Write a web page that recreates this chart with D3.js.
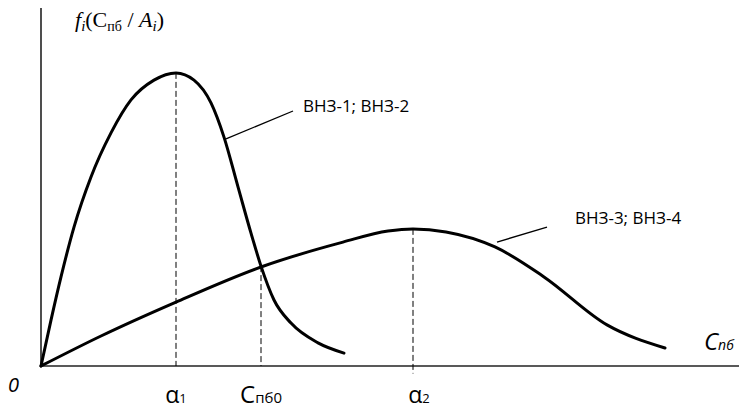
<!DOCTYPE html>
<html>
<head>
<meta charset="utf-8">
<script src="https://cdn.jsdelivr.net/npm/d3@7"></script>
<style>
  body { margin: 0; background: #fff; }
  svg { display: block; }
</style>
</head>
<body>
<svg id="chart"></svg>
<script>
// distribution curves f_i(C_пб / A_i) (x, y in chart units)
const curve12 = [
  [0, 0], [0.1, 0.153], [0.2, 0.297], [0.33, 0.463], [0.5, 0.63], [0.7, 0.777],
  [0.9, 0.887], [1.13, 0.953], [1.35, 0.977], [1.53, 0.953], [1.7, 0.877],
  [1.83, 0.763], [1.97, 0.597], [2.1, 0.443], [2.2, 0.333], [2.33, 0.22],
  [2.5, 0.143], [2.77, 0.077], [3.03, 0.043]
];
const curve34 = [
  [0, 0], [0.6, 0.1], [1.35, 0.213], [2.2, 0.33], [3.02, 0.413], [3.47, 0.45],
  [3.72, 0.457], [4.05, 0.447], [4.54, 0.397], [5.03, 0.297], [5.66, 0.137],
  [6.24, 0.06]
];

// dashed markers: x position, top of the dash, bottom of the dash
const markers = [
  { x: 1.35, top: 0.977, bottom: 0 },
  { x: 2.2, top: 0.333, bottom: 0 },
  { x: 3.72, top: 0.457, bottom: -0.025 }
];

// tick labels under the axis: main text, subscript, x position
const tickLabels = [
  { main: "α", sub: "1", x: 1.35 },
  { main: "С", sub: "пб0", x: 2.2 },
  { main: "α", sub: "2", x: 3.78 }
];

// curve names and their leader lines
const curveNames = ["ВНЗ-1; ВНЗ-2", "ВНЗ-3; ВНЗ-4"];
const leaders = [
  [[1.85, 0.757], [2.52, 0.85]],
  [[4.56, 0.413], [5.06, 0.463]]
];
const nameAnchors = [[2.62, 0.847], [5.34, 0.473]];

let width = 739;
let height = 411;

let svg = d3.select("#chart").attr("width", width).attr("height", height);

let x = d3.scaleLinear().domain([0, 7]).range([41, 741]);
let y = d3.scaleLinear().domain([0, 1]).range([366, 66]);

// axes
svg.append("line")
  .attr("x1", x(0)).attr("x2", x(0))
  .attr("y1", 8).attr("y2", y(0))
  .style("stroke", "#222").style("stroke-width", 1.6);
svg.append("line")
  .attr("x1", x(0)).attr("x2", width)
  .attr("y1", y(0)).attr("y2", y(0))
  .style("stroke", "#222").style("stroke-width", 1.6);

// dashed verticals
svg.append("g")
  .selectAll("line")
  .data(markers)
  .join("line")
  .attr("x1", (d) => x(d.x)).attr("x2", (d) => x(d.x))
  .attr("y1", (d) => y(d.top)).attr("y2", (d) => y(d.bottom))
  .style("stroke", "#000")
  .style("stroke-width", 1)
  .style("stroke-dasharray", "6,3");

let line = d3.line()
  .x((d) => x(d[0]))
  .y((d) => y(d[1]))
  .curve(d3.curveMonotoneX);

svg.append("g")
  .selectAll("path")
  .data([curve12, curve34])
  .join("path")
  .attr("d", line)
  .style("fill", "none")
  .style("stroke", "#000")
  .style("stroke-width", 3)
  .style("stroke-linecap", "round");

// leader lines + names
svg.append("g")
  .selectAll("line")
  .data(leaders)
  .join("line")
  .attr("x1", (d) => x(d[0][0])).attr("y1", (d) => y(d[0][1]))
  .attr("x2", (d) => x(d[1][0])).attr("y2", (d) => y(d[1][1]))
  .style("stroke", "#000")
  .style("stroke-width", 1.3);

svg.append("g")
  .selectAll("text")
  .data(curveNames)
  .join("text")
  .attr("x", (d, i) => x(nameAnchors[i][0]))
  .attr("y", (d, i) => y(nameAnchors[i][1]))
  .style("font-family", "'Open Sans', sans-serif")
  .style("font-size", "17px")
  .text((d) => d);

// tick labels
let ticks = svg.append("g")
  .selectAll("text")
  .data(tickLabels)
  .join("text")
  .attr("x", (d) => x(d.x))
  .attr("y", 403)
  .attr("text-anchor", "middle")
  .style("font-family", "'Open Sans', sans-serif");
ticks.append("tspan")
  .style("font-size", (d) => (d.main == "α" ? "23px" : "24px"))
  .text((d) => d.main);
ticks.append("tspan")
  .style("font-size", (d) => (d.main == "α" ? "13px" : "15px"))
  .text((d) => d.sub);

// origin and axis name
svg.append("text")
  .attr("x", 8).attr("y", 392)
  .style("font-family", "'Open Sans', sans-serif")
  .style("font-style", "italic")
  .style("font-size", "20px")
  .text("0");

let xName = svg.append("text")
  .attr("x", 704).attr("y", 350)
  .style("font-family", "'Open Sans', sans-serif")
  .style("font-style", "italic");
xName.append("tspan").style("font-size", "24px").text("С");
xName.append("tspan").style("font-size", "14px").text("пб");

// y axis name: f_i(C_пб / A_i)
let yName = svg.append("text")
  .attr("x", 75).attr("y", 27)
  .style("font-family", "'Liberation Serif', serif")
  .style("font-size", "22px");
yName.append("tspan").style("font-style", "italic").text("f");
yName.append("tspan").style("font-style", "italic").style("font-size", "15px").attr("dy", 4).text("i");
yName.append("tspan").attr("dy", -4).text("(С");
yName.append("tspan").style("font-size", "14px").attr("dy", 4).text("пб");
yName.append("tspan").attr("dy", -4).text(" / ");
yName.append("tspan").style("font-style", "italic").text("A");
yName.append("tspan").style("font-style", "italic").style("font-size", "15px").attr("dy", 4).text("i");
yName.append("tspan").attr("dy", -4).text(")");
</script>
</body>
</html>
